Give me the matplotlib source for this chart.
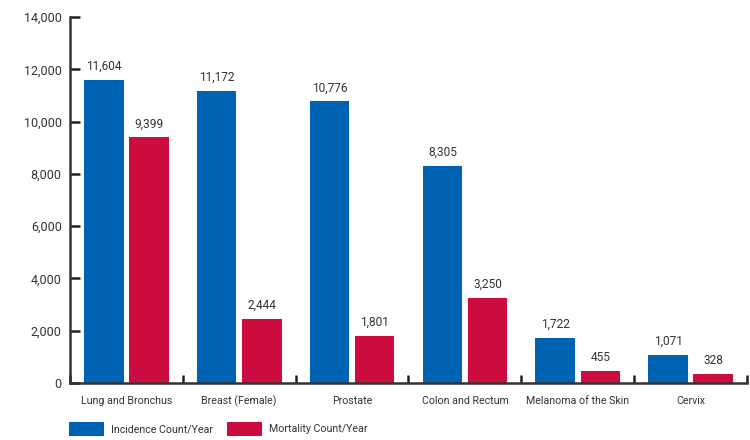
import matplotlib.pyplot as plt
import numpy as np

# Cancer counts per year by site
sites = ["Lung and Bronchus", "Breast (Female)", "Prostate",
         "Colon and Rectum", "Melanoma of the Skin", "Cervix"]
incidence = [11604, 11172, 10776, 8305, 1722, 1071]
mortality = [9399, 2444, 1801, 3250, 455, 328]

blue = "#0063b2"
red = "#cc0c3f"
text_c = "#333333"
fs = 7.7

plt.rcParams["font.family"] = ["Roboto", "DejaVu Sans"]

fig = plt.figure(figsize=(7.5, 4.4), dpi=100)
ax = fig.add_axes([0.0933, 0.1295, 0.9027, 0.8319])

x = np.arange(len(sites))
w = 0.35
gap = 0.05
b1 = ax.bar(x - w / 2 - gap / 2, incidence, w, color=blue, label="Incidence Count/Year")
b2 = ax.bar(x + w / 2 + gap / 2, mortality, w, color=red, label="Mortality Count/Year")

for bars, vals in ((b1, incidence), (b2, mortality)):
    for b, v in zip(bars, vals):
        ax.annotate(f"{v:,}", (b.get_x() + b.get_width() / 2, v),
                    xytext=(0, 5), textcoords="offset points",
                    ha="center", va="bottom", fontsize=8.6, color=text_c)

ax.set_xlim(-0.5, len(sites) - 0.5)
ax.set_ylim(0, 14000)
ax.set_yticks(range(0, 14001, 2000))
ax.set_yticklabels([f"{v:,}" for v in range(0, 14001, 2000)])
ax.tick_params(axis="y", direction="in", length=7, width=1.8, color="#222222",
               labelsize=9, labelcolor=text_c, pad=6)

# category separators on the x axis
ax.set_xticks(np.arange(len(sites) + 1) - 0.5, minor=True)
ax.set_xticks(x)
ax.set_xticklabels(sites)
ax.tick_params(axis="x", which="major", length=0, labelsize=fs, labelcolor=text_c, pad=9)
ax.tick_params(axis="x", which="minor", direction="in", length=6, width=1.8, color="#222222")

for s in ("top", "right"):
    ax.spines[s].set_visible(False)
for s in ("left", "bottom"):
    ax.spines[s].set_linewidth(1.8)
    ax.spines[s].set_color("#333333")

leg = ax.legend(loc="upper left", bbox_to_anchor=(-0.002, -0.106), ncol=2, frameon=False,
                fontsize=fs, handlelength=3.3, handleheight=1.65, handletextpad=0.65,
                columnspacing=1.3, borderaxespad=0, borderpad=0)
for t in leg.get_texts():
    t.set_color(text_c)

plt.savefig("out.png", dpi=100)
